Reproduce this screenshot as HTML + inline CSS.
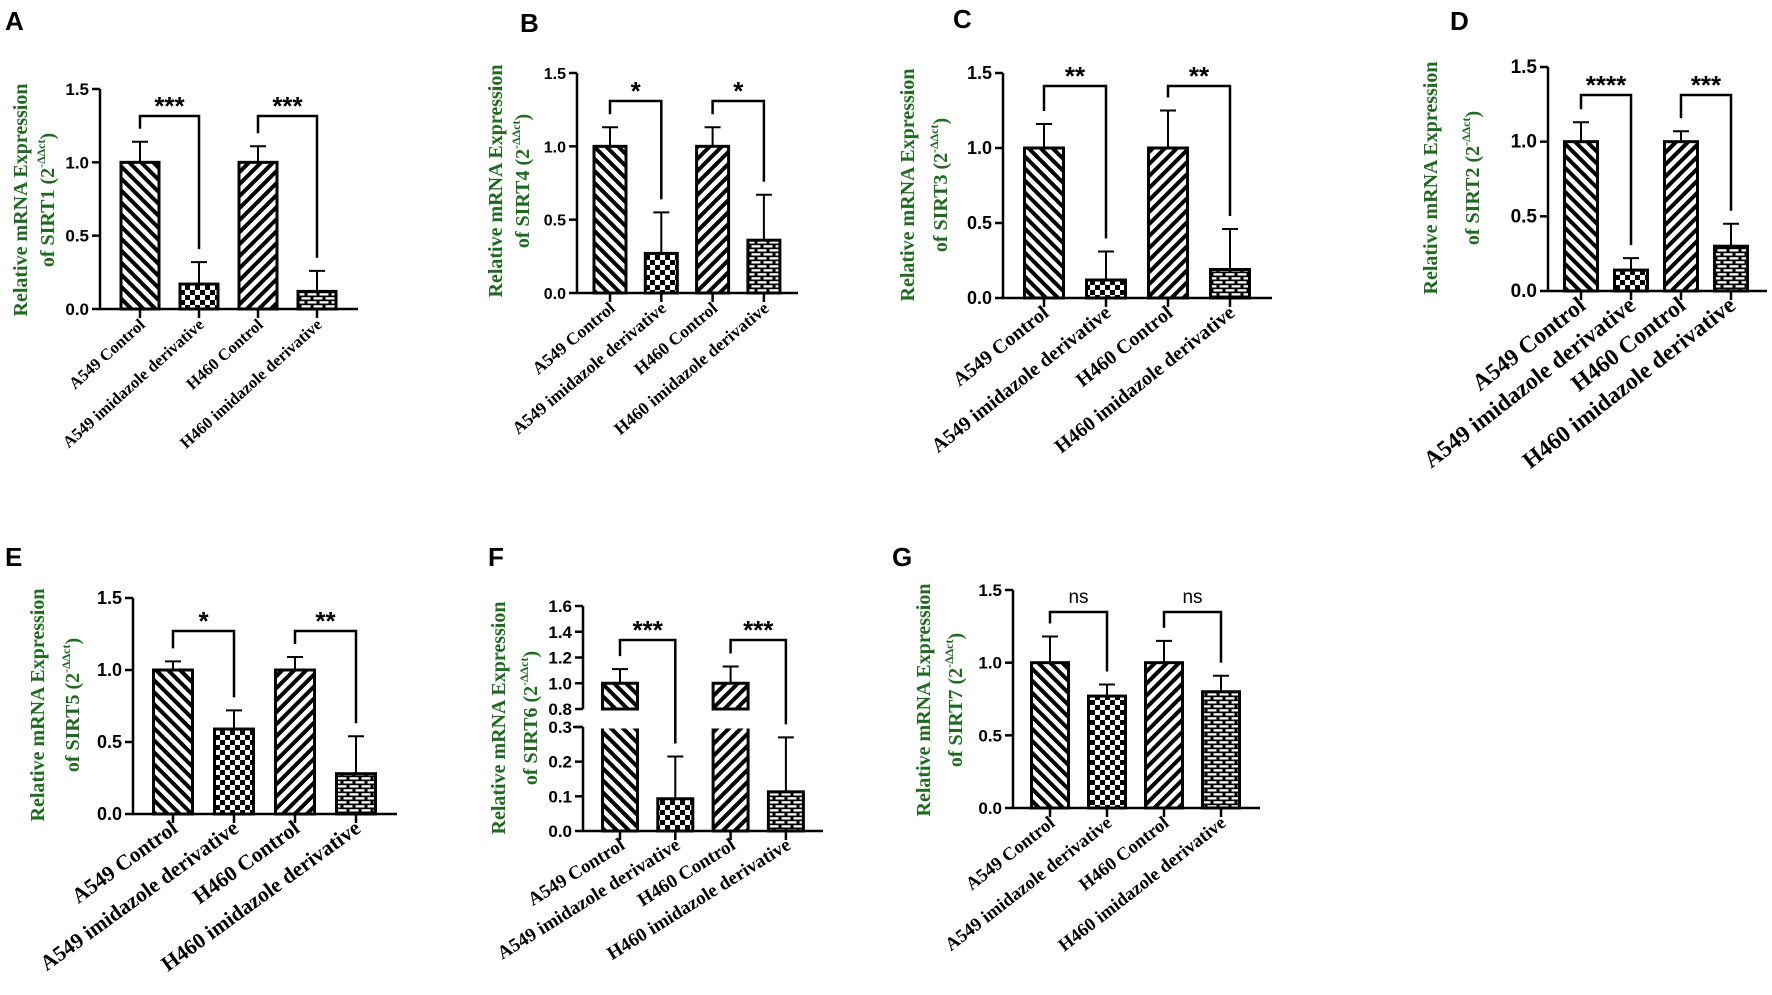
<!DOCTYPE html>
<html><head><meta charset="utf-8"><title>SIRT expression panels</title>
<style>html,body{margin:0;padding:0;background:#fff}svg{display:block}</style></head>
<body>
<svg id="fig" xmlns="http://www.w3.org/2000/svg" width="1772" height="995" viewBox="0 0 1772 995">
<defs>
<pattern id="pBack" patternUnits="userSpaceOnUse" width="8.5" height="8.5" patternTransform="rotate(-45)"><rect width="8.5" height="8.5" fill="#fff"/><rect width="4" height="8.5" fill="#000"/></pattern>
<pattern id="pFwd" patternUnits="userSpaceOnUse" width="8.5" height="8.5" patternTransform="rotate(45)"><rect width="8.5" height="8.5" fill="#fff"/><rect width="4" height="8.5" fill="#000"/></pattern>
<pattern id="pCheck" patternUnits="userSpaceOnUse" width="10" height="10"><rect width="10" height="10" fill="#fff"/><rect width="5" height="5" fill="#000"/><rect x="5" y="5" width="5" height="5" fill="#000"/></pattern>
<pattern id="pBrick" patternUnits="userSpaceOnUse" width="12" height="8"><rect width="12" height="8" fill="#000"/><rect x="1.5" y="1.2" width="9" height="2.3" fill="#fff"/><rect x="-4.5" y="5.2" width="9" height="2.3" fill="#fff"/><rect x="7.5" y="5.2" width="9" height="2.3" fill="#fff"/></pattern>
</defs>
</svg>
<script>
const categories = ["A549 Control","A549 imidazole derivative","H460 Control","H460 imidazole derivative"];
const sirt1Means = [1, 0.17, 1, 0.12];
const sirt1Errs  = [0.14, 0.15, 0.11, 0.14];
const sirt4Means = [1, 0.27, 1, 0.36];
const sirt4Errs  = [0.13, 0.28, 0.13, 0.31];
const sirt3Means = [1, 0.12, 1, 0.19];
const sirt3Errs  = [0.16, 0.19, 0.25, 0.27];
const sirt2Means = [1, 0.14, 1, 0.30];
const sirt2Errs  = [0.13, 0.08, 0.07, 0.15];
const sirt5Means = [1, 0.59, 1, 0.28];
const sirt5Errs  = [0.06, 0.13, 0.09, 0.26];
const sirt6Means = [1, 0.093, 1, 0.113];
const sirt6Errs  = [0.11, 0.122, 0.13, 0.157];
const sirt7Means = [1, 0.77, 1, 0.80];
const sirt7Errs  = [0.18, 0.08, 0.15, 0.11];
const sigA = ["***","***"], sigB = ["*","*"], sigC = ["**","**"], sigD = ["****","***"];
const sigE = ["*","**"], sigF = ["***","***"], sigG = ["ns","ns"];
const stdTicks = [0, 0.5, 1.0, 1.5];
const stdTickLabels = ["0.0","0.5","1.0","1.5"];
const sirt6UpperTicks = [0.8, 1.0, 1.2, 1.4, 1.6];
const sirt6UpperLabels = ["0.8","1.0","1.2","1.4","1.6"];
const sirt6LowerTicks = [0, 0.1, 0.2, 0.3];
const sirt6LowerLabels = ["0.0","0.1","0.2","0.3"];

const NS = "http://www.w3.org/2000/svg";
const svg = document.getElementById("fig");
const fills = ["url(#pBack)","url(#pCheck)","url(#pFwd)","url(#pBrick)"];
const GREEN = "#1e6a1e";

function mk(tag, attrs, parent) {
  const e = document.createElementNS(NS, tag);
  for (const k in attrs) e.setAttribute(k, attrs[k]);
  (parent || svg).appendChild(e);
  return e;
}

const panels = [
  {L:"A", lx:5, ly:30, gene:"SIRT1", means:sirt1Means, errs:sirt1Errs, sig:sigA, ax:100, y0:309, yt:89, x0:140, step:59, w:38, end:358, br:116, t1:20, t2:47, tcy:200, xf:16.5, rot:42, tf:17},
  {L:"B", lx:520, ly:32, gene:"SIRT4", means:sirt4Means, errs:sirt4Errs, sig:sigB, ax:577, y0:293, yt:73, x0:610, step:51.3, w:32, end:798, br:101, t1:495, t2:522, tcy:181, xf:17.5, rot:40, tf:16},
  {L:"C", lx:953, ly:28, gene:"SIRT3", means:sirt3Means, errs:sirt3Errs, sig:sigC, ax:1003, y0:298, yt:73, x0:1044, step:62, w:39, end:1272, br:86, t1:907, t2:940, tcy:185, xf:20, rot:38.5, tf:18},
  {L:"D", lx:1450, ly:30, gene:"SIRT2", means:sirt2Means, errs:sirt2Errs, sig:sigD, ax:1548, y0:291, yt:67, x0:1581, step:50, w:33, end:1767, br:95, t1:1430, t2:1472, tcy:178, xf:23.5, rot:38, tf:19},
  {L:"E", lx:5, ly:566, gene:"SIRT5", means:sirt5Means, errs:sirt5Errs, sig:sigE, ax:133, y0:814, yt:598, x0:173, step:61, w:39, end:397, br:631, t1:37, t2:72, tcy:705, xf:21.5, rot:36, tf:18},
  {L:"F", lx:488, ly:566, gene:"SIRT6", means:sirt6Means, errs:sirt6Errs, sig:sigF, ax:583, y0:831, yt:606, x0:620, step:55.3, w:35, end:823, br:640, t1:498, t2:530, tcy:718, xf:19, rot:32, tf:17, broken:true},
  {L:"G", lx:892, ly:566, gene:"SIRT7", means:sirt7Means, errs:sirt7Errs, sig:sigG, ax:1013, y0:808, yt:590, x0:1050, step:57, w:37, end:1260, br:612, t1:923, t2:955, tcy:700, xf:18.5, rot:38, tf:17}
];

panels.forEach(p => {
  const g = mk("g", {});
  
  
  let y;
  if (p.broken) {
    const upTop = 606, upBot = 709, loTop = 727, loBot = 831;
    y = v => v >= 0.8 ? upBot - (v - 0.8) / 0.8 * (upBot - upTop)
           : v <= 0.3 ? loBot - v / 0.3 * (loBot - loTop)
           : loTop;
  } else {
    y = v => p.y0 - v / 1.5 * (p.y0 - p.yt);
  }
  const cx = i => p.x0 + i * p.step;

  const lab = mk("text", {x:p.lx, y:p.ly, "font-family":"Liberation Sans, sans-serif", "font-weight":"bold", "font-size":26}, g);
  lab.textContent = p.L;
  
  

  const t1 = mk("text", {transform:`translate(${p.t1+7},${p.tcy}) rotate(-90)`, "text-anchor":"middle", "font-family":"Liberation Serif, serif", "font-weight":"bold", "font-size":20, fill:GREEN}, g);
  t1.textContent = "Relative mRNA Expression";
  
  
  const t2 = mk("text", {transform:`translate(${p.t2+7},${p.tcy}) rotate(-90)`, "text-anchor":"middle", "font-family":"Liberation Serif, serif", "font-weight":"bold", "font-size":20, fill:GREEN}, g);
  
  
  const s1 = mk("tspan", {}, t2); s1.textContent = "of " + p.gene + " (2";
  const s2 = mk("tspan", {dy:-9, "font-size":12}, t2); s2.textContent = "-ΔΔct";
  const s3 = mk("tspan", {dy:9}, t2); s3.textContent = ")";

  p.means.forEach((m, i) => {
    const top = y(m), bot = p.y0;
    if (p.broken && m > 0.3) {
      const r1 = mk("rect", {x:cx(i)-p.w/2, y:top, width:p.w, height:709-top, fill:fills[i], stroke:"#000", "stroke-width":3}, g);
      
      
      const r2 = mk("rect", {x:cx(i)-p.w/2, y:727, width:p.w, height:bot-727, fill:fills[i], stroke:"#000", "stroke-width":3}, g);
      
      
      mk("rect", {x:cx(i)-p.w/2-3, y:725.5, width:p.w+6, height:3, fill:"#fff"}, g);
    } else {
      const r = mk("rect", {x:cx(i)-p.w/2, y:top, width:p.w, height:bot-top, fill:fills[i], stroke:"#000", "stroke-width":3}, g);
      
      
    }
    const et = y(m + p.errs[i]);
    const e = mk("path", {d:`M${cx(i)},${top} V${et} M${cx(i)-8},${et} H${cx(i)+8}`, stroke:"#000", "stroke-width":2, fill:"none"}, g);
    
    
  });

  if (p.broken) {
    mk("path", {d:`M${p.ax},831 V727 M${p.ax},709 V606`, stroke:"#000", "stroke-width":2.5, fill:"none"}, g);
    const up = sirt6UpperTicks.map((v, k) => [v, sirt6UpperLabels[k]]);
    const lo = sirt6LowerTicks.map((v, k) => [v, sirt6LowerLabels[k]]);
    up.concat(lo).forEach(([v, l]) => {
      mk("line", {x1:p.ax-8, x2:p.ax, y1:y(v), y2:y(v), stroke:"#000", "stroke-width":2.5}, g);
      const t = mk("text", {x:p.ax-11, y:y(v)+6, "text-anchor":"end", "font-family":"Liberation Sans, sans-serif", "font-weight":"bold", "font-size":p.tf}, g);
      t.textContent = l;
      
      
    });
    mk("line", {x1:p.ax-10, x2:p.ax, y1:727, y2:727, stroke:"#000", "stroke-width":2.5}, g);
  } else {
    mk("line", {x1:p.ax, x2:p.ax, y1:p.y0, y2:p.yt, stroke:"#000", "stroke-width":2.5}, g);
    stdTicks.forEach((v, k) => {
      mk("line", {x1:p.ax-8, x2:p.ax, y1:y(v), y2:y(v), stroke:"#000", "stroke-width":2.5}, g);
      const t = mk("text", {x:p.ax-11, y:y(v)+6, "text-anchor":"end", "font-family":"Liberation Sans, sans-serif", "font-weight":"bold", "font-size":p.tf}, g);
      t.textContent = stdTickLabels[k];
      
      
    });
  }
  const xa = mk("line", {x1:p.ax-1, x2:p.end, y1:p.y0, y2:p.y0, stroke:"#000", "stroke-width":2.5}, g);
  
  

  categories.forEach((c, i) => {
    mk("line", {x1:cx(i), x2:cx(i), y1:p.y0, y2:p.y0+9, stroke:"#000", "stroke-width":2.5}, g);
    const t = mk("text", {transform:`translate(${cx(i)+6},${p.y0+17}) rotate(-${p.rot})`, "text-anchor":"end", "font-family":"Liberation Serif, serif", "font-weight":"bold", "font-size":p.xf}, g);
    t.textContent = c;
    
    
  });

  [0, 2].forEach((a, k) => {
    const l = cx(a), r = cx(a+1);
    const lEnd = y(p.means[a] + p.errs[a]) - 13;
    const rEnd = y(p.means[a+1] + p.errs[a+1]) - 13;
    const b = mk("path", {d:`M${l},${lEnd} V${p.br} H${r} V${rEnd}`, stroke:"#000", "stroke-width":2.5, fill:"none"}, g);
    
    
    const isNs = p.sig[k] === "ns";
    const t = mk("text", {x:(l+r)/2, y:isNs ? p.br-9 : p.br-1, "text-anchor":"middle", "font-family":"Liberation Sans, sans-serif", "font-weight":isNs ? "normal" : "bold", "font-size":isNs ? 19 : 26}, g);
    t.textContent = p.sig[k];
    
    
  });
});
</script>
</body></html>
